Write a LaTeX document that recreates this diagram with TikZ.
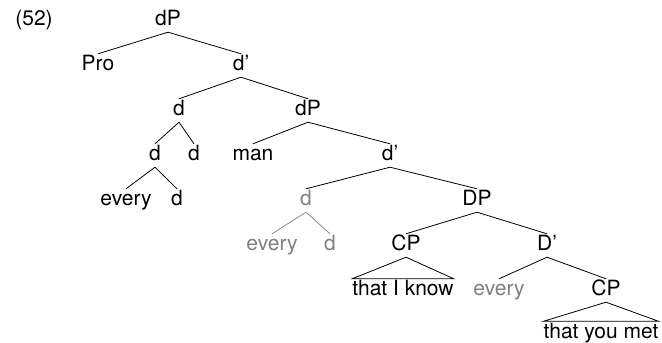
\documentclass[tikz,border=0pt]{standalone}
\usepackage{fontspec}
\setmainfont{TeX Gyre Heros}
\usepackage{xcolor}
\tikzset{
  nodo/.style={anchor=base,inner xsep=1pt,inner ysep=1.5pt,text height=15pt,text depth=5pt,font=\fontsize{21}{25}\selectfont},
  hoja/.style={nodo,inner xsep=0pt},
  gris/.style={text=black!50},
  rama/.style={line width=0.8pt},
  ramagris/.style={rama,draw=black!45}
}

\begin{document}
\begin{tikzpicture}[x=1pt,y=-1pt]
\useasboundingbox (0,0) rectangle (662,343);
% etiquetas del arbol
\node[nodo] (num) at (34,25.5) {(52)};
\node[nodo] (dPa) at (168,25.5) {dP};
\node[nodo] (pro) at (98,70.5) {Pro};
\node[nodo] (dba) at (241,70.5) {d’};
\node[nodo] (da) at (179,115.5) {d};
\node[nodo] (dPb) at (308,115.5) {dP};
\node[nodo] (db) at (155,160.5) {d};
\node[nodo] (dc) at (194,160.5) {d};
\node[nodo] (man) at (253,160.5) {man};
\node[nodo] (dbb) at (390,160.5) {d’};
\node[nodo] (everya) at (126,205.5) {every};
\node[nodo] (dd) at (177,205.5) {d};
\node[nodo,gris] (de) at (306,205.5) {d};
\node[nodo] (DP) at (477,205.5) {DP};
\node[nodo,gris] (everyb) at (272,250.5) {every};
\node[nodo,gris] (df) at (330,250.5) {d};
\node[nodo] (CPa) at (406,250.5) {CP};
\node[nodo] (Db) at (547,250.5) {D’};
\node[hoja] (tk) at (403,295.5) {that I know};
\node[nodo,gris] (everyc) at (499,295.5) {every};
\node[nodo] (CPb) at (606,295.5) {CP};
\node[hoja] (tym) at (601,338) {that you met};
% ramas
\draw[rama] (dPa.south) -- (pro.north);
\draw[rama] (dPa.south) -- (dba.north);
\draw[rama] (dba.south) -- (da.north);
\draw[rama] (dba.south) -- (dPb.north);
\draw[rama] (da.south) -- (db.north);
\draw[rama] (da.south) -- (dc.north);
\draw[rama] (dPb.south) -- (man.north);
\draw[rama] (dPb.south) -- (dbb.north);
\draw[rama] (db.south) -- (everya.north);
\draw[rama] (db.south) -- (dd.north);
\draw[rama] (dbb.south) -- (de.north);
\draw[rama] (dbb.south) -- (DP.north);
\draw[ramagris] (de.south) -- (everyb.north);
\draw[ramagris] (de.south) -- (df.north);
\draw[rama] (DP.south) -- (CPa.north);
\draw[rama] (DP.south) -- (Db.north);
\draw[rama] (Db.south) -- (everyc.north);
\draw[rama] (Db.south) -- (CPb.north);
% triangulos
\draw[rama] (CPa.south) -- (tk.north west) -- (tk.north east) -- cycle;
\draw[rama] (CPb.south) -- (tym.north west) -- (tym.north east) -- cycle;
\end{tikzpicture}
\end{document}
